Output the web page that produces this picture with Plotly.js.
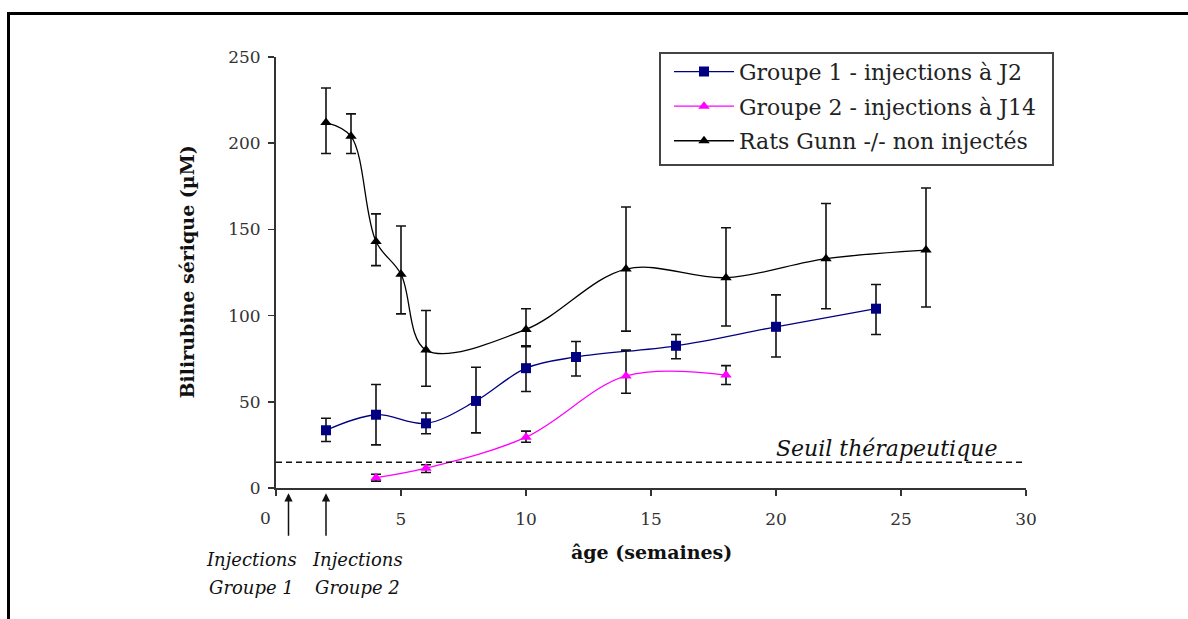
<!DOCTYPE html>
<html>
<head>
<meta charset="utf-8">
<script src="https://cdn.plot.ly/plotly-3.0.1.min.js"></script>
<style>
  html, body { margin: 0; padding: 0; background: #fff; }
  #frame { position: absolute; left: 7px; top: 12px; width: 1185px; height: 610px;
           border-left: 3px solid #000; border-top: 3px solid #000; }
  #chart { position: absolute; left: 0; top: 0; width: 1188px; height: 619px; }
</style>
</head>
<body>
<div id="frame"></div>
<div id="chart"></div>
<script>
// ---- data ----
const g1Weeks = [2, 4, 6, 8, 10, 12, 16, 20, 24];
const g1Value = [33.5, 42.5, 37.5, 50.5, 69.5, 76, 82.5, 93.5, 104];
const g1Upper = [40.5, 60, 43.5, 70, 82.5, 85, 89, 112, 118];
const g1Lower = [27, 25, 31.5, 32, 56, 65, 75, 76, 89];

const g2Weeks = [4, 6, 10, 14, 18];
const g2Value = [6, 11.5, 29.5, 65, 65.5];
const g2Upper = [8, 13.5, 33, 80, 71];
const g2Lower = [4, 9, 26.5, 55, 60];

const ctlWeeks = [2, 3, 4, 5, 6, 10, 14, 18, 22, 26];
const ctlValue = [212, 204, 143, 124, 80, 92, 127, 122, 133, 138];
const ctlUpper = [232, 217, 159, 152, 103, 104, 163, 151, 165, 174];
const ctlLower = [194, 194, 129, 101, 59, 82, 91, 94, 104, 105];

const seriesNames = ["Groupe 1 - injections à J2", "Groupe 2 - injections à J14", "Rats Gunn -/- non injectés"];
const threshold = 15;
const thresholdLabel = "Seuil thérapeutique";
const injectionWeeks = [0.5, 2];
const injectionLabels = [["Injections", "Groupe 1"], ["Injections", "Groupe 2"]];
const xTicks = [0, 5, 10, 15, 20, 25, 30];
const yTicks = [0, 50, 100, 150, 200, 250];
const xTitle = "âge (semaines)";
const yTitle = "Bilirubine sérique (µM)";

// ---- build ----
const SERIF = "DejaVu Serif, serif";
function diff(a, b) { return a.map((v, i) => v - b[i]); }
function errBar(val, up, lo) {
  return { type: "data", symmetric: false, array: diff(up, val), arrayminus: diff(val, lo),
           color: "#111", thickness: 1.6, width: 5 };
}
const traces = [
  { x: g1Weeks, y: g1Value, name: seriesNames[0], type: "scatter", mode: "lines+markers",
    line: { color: "#000080", width: 1.3, shape: "spline", smoothing: 1 },
    marker: { symbol: "square", size: 10, color: "#000080" },
    error_y: errBar(g1Value, g1Upper, g1Lower), legendgroup: "a" },
  { x: g2Weeks, y: g2Value, name: seriesNames[1], type: "scatter", mode: "lines+markers",
    line: { color: "#ff00ff", width: 1.3, shape: "spline", smoothing: 1 },
    marker: { symbol: "triangle-up", size: 10, color: "#ff00ff" },
    error_y: errBar(g2Value, g2Upper, g2Lower), legendgroup: "b" },
  { x: ctlWeeks, y: ctlValue, name: seriesNames[2], type: "scatter", mode: "lines+markers",
    line: { color: "#000000", width: 1.3, shape: "spline", smoothing: 1 },
    marker: { symbol: "triangle-up", size: 10, color: "#000000" },
    error_y: errBar(ctlValue, ctlUpper, ctlLower), legendgroup: "c" }
];

const annotations = [];
annotations.push({ text: xTitle, xref: "paper", yref: "paper", x: 0.5, y: -0.1485,
  xanchor: "center", yanchor: "middle", showarrow: false,
  font: { family: SERIF, size: 19, color: "#111", weight: "bold" } });
annotations.push({ text: yTitle, xref: "paper", yref: "paper", x: -0.12, y: 0.5,
  xanchor: "center", yanchor: "middle", showarrow: false, textangle: -90,
  font: { family: SERIF, size: 19, color: "#111", weight: "bold" } });
annotations.push({ text: String(xTicks[0]), xref: "x", yref: "paper", x: xTicks[0], y: -0.0696,
  xshift: -11, xanchor: "center", yanchor: "middle", showarrow: false,
  font: { family: SERIF, size: 17, color: "#333" } });
annotations.push({ text: thresholdLabel, xref: "x", yref: "y", x: 24.4, y: threshold,
  yshift: 14, xanchor: "center", yanchor: "middle", showarrow: false,
  font: { family: SERIF, size: 22, color: "#111", style: "italic" } });
injectionWeeks.forEach(w => {
  annotations.push({ text: "", xref: "x", yref: "paper", x: w, y: -0.012,
    showarrow: true, ax: 0, ay: 44, arrowhead: 2, arrowsize: 1.1, arrowwidth: 1.5,
    arrowcolor: "#111" });
});
const labelX = [-0.0333, 0.1093];
injectionLabels.forEach((lines, i) => {
  lines.forEach((t, j) => {
    annotations.push({ text: t, xref: "paper", yref: "paper", x: labelX[i], y: j === 0 ? -0.167 : -0.2297,
      xanchor: "center", yanchor: "middle", showarrow: false,
      font: { family: SERIF, size: 18, color: "#111", style: "italic" } });
  });
});

const layout = {
  width: 1188, height: 619,
  margin: { l: 276, r: 162, t: 57, b: 131 },
  paper_bgcolor: "rgba(0,0,0,0)", plot_bgcolor: "rgba(0,0,0,0)",
  showlegend: true,
  legend: { x: 0.524, y: 1.0145, xanchor: "left", yanchor: "top",
    bgcolor: "rgba(0,0,0,0)", borderwidth: 0, itemwidth: 60,
    font: { family: SERIF, size: 22, color: "#222" }, tracegroupgap: 3 },
  xaxis: { range: [0, 30], tickvals: xTicks, ticktext: xTicks.map((v, i) => i === 0 ? "" : String(v)),
    showgrid: false, zeroline: false, showline: true, linecolor: "#333", linewidth: 2,
    ticks: "outside", ticklen: 6, tickwidth: 1.5, tickcolor: "#333", ticklabelstandoff: 9,
    tickfont: { family: SERIF, size: 17, color: "#333" }, fixedrange: true },
  yaxis: { range: [0, 250], tickvals: yTicks, showgrid: false, zeroline: false,
    showline: true, linecolor: "#333", linewidth: 2,
    ticks: "outside", ticklen: 6, tickwidth: 1.5, tickcolor: "#333", ticklabelstandoff: 4,
    tickfont: { family: SERIF, size: 17, color: "#333" }, fixedrange: true },
  shapes: [
    { type: "line", xref: "x", yref: "y", x0: 0, x1: 30, y0: threshold, y1: threshold,
      line: { color: "#111", width: 1.5, dash: "6px,4px" } },
    { type: "rect", xref: "paper", yref: "paper", x0: 0.512, x1: 1.036, y0: 0.7494, y1: 1.0093,
      line: { color: "#444", width: 2 }, fillcolor: "#fff", layer: "below" }
  ],
  annotations: annotations
};

Plotly.newPlot("chart", traces, layout, { staticPlot: true, displayModeBar: false });
</script>
</body>
</html>
